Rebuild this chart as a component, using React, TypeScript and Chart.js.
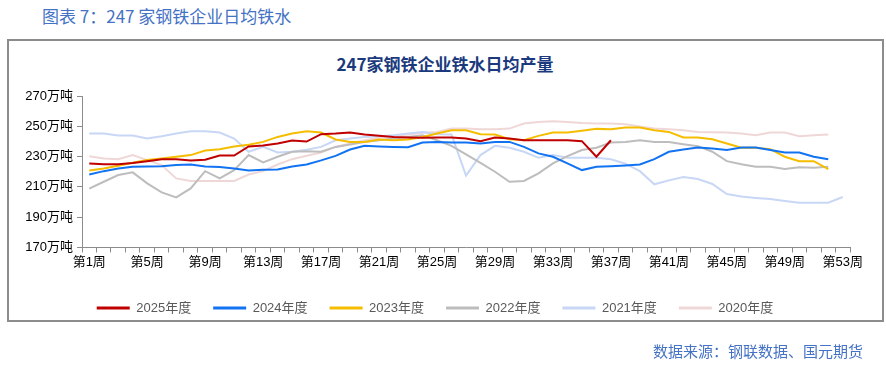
import React, { useEffect, useRef } from "react";
import { Chart, registerables } from "chart.js";

Chart.register(...registerables);

const weeks = [
  "第1周", "第2周", "第3周", "第4周", "第5周", "第6周", "第7周", "第8周", "第9周", "第10周",
  "第11周", "第12周", "第13周", "第14周", "第15周", "第16周", "第17周", "第18周", "第19周", "第20周",
  "第21周", "第22周", "第23周", "第24周", "第25周", "第26周", "第27周", "第28周", "第29周", "第30周",
  "第31周", "第32周", "第33周", "第34周", "第35周", "第36周", "第37周", "第38周", "第39周", "第40周",
  "第41周", "第42周", "第43周", "第44周", "第45周", "第46周", "第47周", "第48周", "第49周", "第50周",
  "第51周", "第52周", "第53周",
];

const y2025 = [
  225.5, 225.0, 225.0, 225.7, 227.0, 228.3, 228.3, 227.4, 227.9, 230.7,
  230.7, 236.7, 237.3, 238.6, 240.6, 239.9, 244.8, 245.2, 245.9, 244.6,
  243.7, 243.0, 242.6, 242.4, 242.6, 242.6, 241.9, 240.2, 242.6, 241.9,
  240.8, 240.8, 240.8, 240.8, 240.2, 229.9, 240.8,
];

const y2024 = [
  218.2, 220.4, 222.2, 223.3, 223.5, 223.7, 224.4, 224.8, 223.5, 223.1,
  222.2, 220.9, 221.3, 221.5, 223.5, 224.8, 227.5, 230.5, 234.7, 237.1,
  236.7, 236.4, 236.2, 239.3, 239.7, 239.3, 239.3, 238.6, 239.7, 239.7,
  236.4, 232.1, 229.9, 225.5, 221.1, 223.3, 223.7, 224.2, 224.8, 228.3,
  233.2, 234.7, 236.0, 235.4, 234.3, 236.0, 236.0, 234.3, 232.7, 232.7,
  229.9, 228.3,
];

const y2023 = [
  220.9, 222.2, 224.0, 225.9, 227.7, 228.8, 229.9, 231.0, 234.0, 234.9,
  236.7, 237.8, 239.7, 243.0, 245.2, 246.8, 245.9, 241.3, 239.7, 239.7,
  241.3, 240.8, 241.3, 243.0, 245.2, 247.4, 247.4, 244.8, 244.6, 241.5,
  240.8, 243.7, 245.9, 245.9, 247.0, 248.3, 248.1, 249.2, 249.2, 247.4,
  246.3, 242.6, 242.6, 241.5, 238.6, 235.8, 235.8, 234.9, 229.9, 227.0,
  227.0, 221.8,
];

const y2022 = [
  208.8, 213.4, 217.8, 219.6, 212.3, 206.4, 203.1, 209.0, 220.4, 215.6,
  221.1, 231.0, 226.1, 229.9, 233.2, 233.6, 233.2, 236.4, 238.0, 239.7,
  240.8, 241.9, 243.0, 244.1, 240.8, 237.1, 231.4, 225.9, 220.0, 213.4,
  213.9, 218.9, 225.5, 230.3, 234.3, 235.8, 239.3, 239.7, 240.8, 239.7,
  239.7, 238.2, 236.9, 233.2, 227.0, 225.0, 223.3, 223.3, 221.8, 222.9,
  222.6, 223.3,
];

const y2021 = [
  245.2, 245.2, 243.9, 243.9, 241.9, 243.4, 245.2, 246.8, 246.8, 245.9,
  241.9, 233.2, 236.4, 232.7, 233.2, 234.5, 236.4, 240.8, 241.9, 243.0,
  243.5, 244.1, 245.2, 246.3, 244.8, 244.6, 217.4, 231.0, 237.1, 235.8,
  233.2, 229.2, 231.0, 229.2, 229.2, 229.2, 228.3, 225.3, 220.4, 211.7,
  214.3, 216.5, 215.2, 211.9, 205.3, 203.6, 202.7, 202.0, 200.7, 199.6,
  199.6, 199.6, 203.3,
];

const y2020 = [
  230.3, 228.8, 228.3, 231.0, 227.7, 224.4, 215.6, 213.9, 213.9, 213.9,
  213.9, 218.2, 220.4, 224.8, 228.3, 230.5, 232.7, 236.4, 238.6, 240.8,
  242.4, 243.7, 244.6, 245.7, 246.3, 248.5, 248.5, 248.1, 248.1, 248.5,
  251.8, 252.9, 253.3, 252.9, 252.2, 251.8, 251.8, 251.4, 249.8, 248.5,
  248.1, 247.4, 246.3, 246.1, 245.9, 245.2, 244.1, 245.9, 245.9, 243.5,
  244.1, 244.6,
];

const seriesNames = ["2025年度", "2024年度", "2023年度", "2022年度", "2021年度", "2020年度"];
const seriesColors = ["#C00000", "#1273F2", "#F5BD00", "#BDBDBD", "#C8D7F5", "#F0D7D7"];
const yTicks = [170, 190, 210, 230, 250, 270];
const yUnit = "万吨";

const FONT = '"Liberation Sans", "Noto Sans CJK SC", sans-serif';

export default function App() {
  const ref = useRef<HTMLCanvasElement | null>(null);

  useEffect(() => {
    if (!ref.current) return;
    const values = [y2025, y2024, y2023, y2022, y2021, y2020];
    const chart = new Chart(ref.current, {
      type: "line",
      data: {
        labels: weeks,
        datasets: values.map((d, i) => ({
          label: seriesNames[i],
          data: d,
          borderColor: seriesColors[i],
          backgroundColor: seriesColors[i],
          borderWidth: 2,
          pointRadius: 0,
          tension: 0,
          fill: false,
        })),
      },
      options: {
        responsive: false,
        maintainAspectRatio: false,
        animation: false,
        layout: { padding: { left: 20, right: 36, top: 96, bottom: 44.5 } },
        plugins: {
          tooltip: { enabled: false },
          title: { display: false },
          legend: {
            position: "bottom",
            labels: {
              boxWidth: 33,
              boxHeight: 3,
              padding: 22,
              color: "#595959",
              font: { family: FONT, size: 13 },
              generateLabels: (c: any) =>
                Chart.defaults.plugins.legend.labels.generateLabels(c).map((l: any) => ({ ...l, lineWidth: 0 })),
            },
          },
        },
        scales: {
          x: {
            type: "category",
            offset: true,
            afterFit: (s: any) => { s.height = 32; },
            grid: { offset: true, drawOnChartArea: false, drawTicks: true, tickLength: 5, color: "#8C8C8C" },
            border: { display: true, color: "#8C8C8C", width: 1 },
            ticks: {
              autoSkip: false,
              maxRotation: 0,
              minRotation: 0,
              padding: 2,
              color: "#000",
              font: { family: FONT, size: 13 },
              callback: (_v: any, i: number) => (i % 4 === 0 ? weeks[i] : ""),
            },
          },
          y: {
            min: yTicks[0],
            max: yTicks[yTicks.length - 1],
            afterFit: (s: any) => { s.width = 62; },
            afterBuildTicks: (s: any) => { s.ticks = yTicks.map((v) => ({ value: v })); },
            grid: { drawOnChartArea: false, drawTicks: true, tickLength: 5, color: "#8C8C8C" },
            border: { display: true, color: "#8C8C8C", width: 1 },
            ticks: {
              padding: 4,
              color: "#000",
              font: { family: FONT, size: 13 },
              callback: (v: any) => `${v}${yUnit}`,
            },
          },
        },
      },
    });
    return () => chart.destroy();
  }, []);

  return (
    <div style={{ position: "absolute", left: 0, top: 0, width: 886, height: 369, background: "#fff", overflow: "hidden" }}>
      <div
        style={{
          position: "absolute", left: 42, top: 4, height: 24, lineHeight: "24px",
          fontFamily: '"Noto Sans CJK SC", sans-serif', fontSize: 17, color: "#4472C4", whiteSpace: "nowrap",
        }}
      >
        图表 7：247 家钢铁企业日均铁水
      </div>
      <div
        style={{
          position: "absolute", left: 7, top: 39, width: 877, height: 283,
          border: "2px solid #8C8C8C", boxSizing: "border-box",
        }}
      />
      <div
        style={{
          position: "absolute", left: 0, top: 52, width: 890, height: 24, lineHeight: "24px", textAlign: "center",
          fontFamily: '"Noto Sans CJK SC", sans-serif', fontSize: 17, fontWeight: "bold", color: "#1B3A7E", whiteSpace: "nowrap",
        }}
      >
        247家钢铁企业铁水日均产量
      </div>
      <canvas ref={ref} width={886} height={369} style={{ position: "absolute", left: 0, top: 0, width: 886, height: 369 }} />
      <div
        style={{
          position: "absolute", right: 23, top: 340, height: 22, lineHeight: "22px",
          fontFamily: '"Noto Sans CJK SC", sans-serif', fontSize: 15, color: "#4472C4", whiteSpace: "nowrap",
        }}
      >
        数据来源：钢联数据、国元期货
      </div>
    </div>
  );
}
